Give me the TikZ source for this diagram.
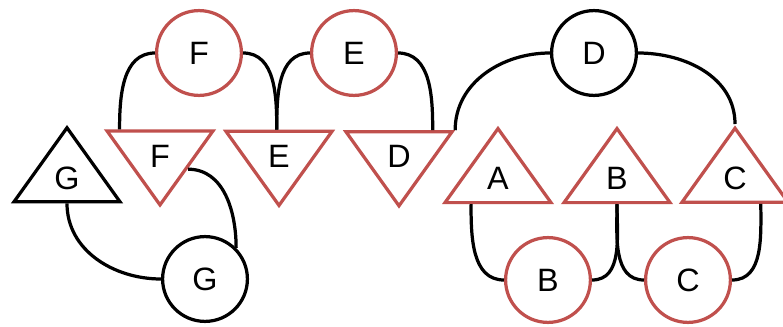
\documentclass[tikz,border=0pt]{standalone}
\usepackage{fontspec}
\setmainfont{Liberation Sans}
\usetikzlibrary{shapes.geometric,calc}
\definecolor{tired}{RGB}{192,80,77}

\begin{document}
\begin{tikzpicture}[x=0.025cm,y=-0.025cm,line width=2.3pt,
        every node/.style={font=\fontsize{23}{28}\selectfont},
        blob/.style={circle,draw,minimum size=2.12cm,inner sep=0pt},
        tri/.style={draw,isosceles triangle,isosceles triangle stretches,
            minimum width=2.65cm,minimum height=1.85cm,inner sep=0pt},
        uptri/.style={tri,shape border rotate=90},
        downtri/.style={tri,shape border rotate=270},
        marked/.style={draw=tired}]

        \useasboundingbox (0,0) rectangle (783,327);

        % circles on top
        \node [blob,marked] (cF) at (199,53) {F};
        \node [blob,marked] (cE) at (354,53) {E};
        \node [blob] (cD) at (594,53) {D};

        % row of triangles
        \node [uptri] (tG) at (67,178) {G};
        \node [downtri,marked] (tF) at (160,156) {F};
        \node [downtri,marked] (tE) at (279,156) {E};
        \node [downtri,marked] (tD) at (399,156) {D};
        \node [uptri,marked] (tA) at (498,178) {A};
        \node [uptri,marked] (tB) at (617,178) {B};
        \node [uptri,marked] (tC) at (735,178) {C};

        % circles below
        \node [blob] (cG) at (205,279) {G};
        \node [blob,marked] (cB) at (548,280) {B};
        \node [blob,marked] (cC) at (688,280) {C};

        % upper links
        \draw (cF.west) to[out=180,in=90] ($(tF.right corner)!0.14!(tF.left corner)$);
        \draw (cF.east) to[out=0,in=90] ($(tE.right corner)!0.48!(tE.left corner)$);
        \draw (cE.west) to[out=180,in=90] ($(tE.right corner)!0.48!(tE.left corner)$);
        \draw (cE.east) to[out=0,in=90] ($(tD.right corner)!0.8!(tD.left corner)$);
        \draw (cD.west) to[out=180,in=90] (tD.left corner);
        \draw (cD.east) to[out=0,in=90] (tC.apex);

        % lower links
        \draw ($(tA.left corner)!0.26!(tA.right corner)$) to[out=270,in=180] (cB.west);
        \draw (cB.east) to[out=0,in=270] ($(tB.left corner)!0.5!(tB.right corner)$);
        \draw ($(tB.left corner)!0.5!(tB.right corner)$) to[out=270,in=180] (cC.west);
        \draw (cC.east) to[out=0,in=270] ($(tC.left corner)!0.73!(tC.right corner)$);
        \draw ($(tG.left corner)!0.5!(tG.right corner)$) to[out=270,in=180] (cG.west);
        \draw ($(tF.left corner)!0.5!(tF.apex)$) to[out=0,in=90] (cG.45);
\end{tikzpicture}
\end{document}
